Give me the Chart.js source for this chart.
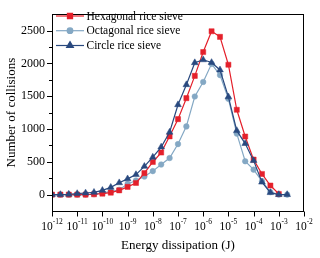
<!DOCTYPE html>
<html>
<head>
<meta charset="utf-8">
<script src="https://cdn.jsdelivr.net/npm/chart.js@4.4.0/dist/chart.umd.min.js"></script>
<style>
html,body{margin:0;padding:0;background:#fff;}
canvas{display:block;}
</style>
</head>
<body>
<canvas id="c" width="320" height="258"></canvas>
<script>
// Energy dissipation values (J), one per point
const energy = [1e-12, 2.15e-12, 4.64e-12, 1e-11, 2.15e-11, 4.64e-11, 1e-10, 2.15e-10, 4.64e-10,
  1e-9, 2.15e-9, 4.64e-9, 1e-8, 2.15e-8, 4.64e-8, 1e-7, 2.15e-7, 4.64e-7,
  1e-6, 2.15e-6, 4.64e-6, 1e-5, 2.15e-5, 4.64e-5, 1e-4, 2.15e-4, 4.64e-4, 1e-3, 2.15e-3];

const hexagonal = [0, 0, 0, 0, 0, 5, 15, 30, 65, 118, 178, 327, 497, 641, 888, 1150, 1470, 1810,
  2173, 2490, 2405, 1980, 1293, 885, 533, 315, 138, 10, null];
const octagonal = [0, 0, 0, 0, 0, 5, 25, 45, 74, 163, 215, 275, 358, 459, 557, 770, 1040, 1495,
  1717, 1993, 1822, 1460, 930, 508, 380, 205, 38, 0, 0];
const circle = [0, 0, 5, 15, 24, 34, 64, 110, 180, 240, 305, 430, 570, 725, 951, 1370, 1675, 2010,
  2055, 2013, 1900, 1490, 975, 778, 518, 190, 30, 0, 0];

const seriesNames = ['Hexagonal rice sieve', 'Octagonal rice sieve', 'Circle rice sieve'];
const yTicks = [0, 500, 1000, 1500, 2000, 2500];
const yMinorTicks = [250, 750, 1250, 1750, 2250];
const xTickExponents = ['-12', '-11', '-10', '-9', '-8', '-7', '-6', '-5', '-4', '-3', '-2'];
const xTickValues = [1e-12, 1e-11, 1e-10, 1e-9, 1e-8, 1e-7, 1e-6, 1e-5, 1e-4, 1e-3, 1e-2];

const FONT = '"Liberation Serif", "Times New Roman", serif';
const RED = '#e4202b';
const LIGHT = '#84a8c4';
const DARK = '#29497f';

function pts(arr) {
  return energy.map((e, i) => ({x: e, y: arr[i]})).filter(p => p.y !== null);
}

const styles = [
  {color: RED, pointStyle: 'rect', radius: 3.6, order: 2},
  {color: LIGHT, pointStyle: 'circle', radius: 2.8, order: 3},
  {color: DARK, pointStyle: 'triangle', radius: 3.9, order: 1}
];
const values = [hexagonal, octagonal, circle];

const datasets = values.map((v, i) => ({
  label: seriesNames[i],
  data: pts(v),
  borderColor: styles[i].color,
  backgroundColor: styles[i].color,
  borderWidth: 1.2,
  pointStyle: styles[i].pointStyle,
  pointRadius: styles[i].radius,
  pointBorderWidth: 0.5,
  tension: 0,
  order: styles[i].order
}));

const decor = {
  id: 'decor',
  afterDraw(chart) {
    const {ctx, chartArea: a, scales: {x, y}} = chart;
    ctx.save();
    ctx.strokeStyle = '#000';
    ctx.lineWidth = 1;
    ctx.strokeRect(Math.round(a.left) + 0.5, Math.round(a.top) + 0.5,
      Math.round(a.right - a.left) - 1, Math.round(a.bottom - a.top));
    // y ticks
    ctx.beginPath();
    yTicks.forEach(v => {
      const py = Math.round(y.getPixelForValue(v)) + 0.5;
      ctx.moveTo(a.left - 5, py); ctx.lineTo(a.left, py);
    });
    yMinorTicks.forEach(v => {
      const py = Math.round(y.getPixelForValue(v)) + 0.5;
      ctx.moveTo(a.left - 3, py); ctx.lineTo(a.left, py);
    });
    // x ticks
    const by = Math.round(a.bottom) + 0.5;
    xTickValues.forEach(v => {
      const px = Math.round(x.getPixelForValue(v)) + 0.5;
      ctx.moveTo(px, by); ctx.lineTo(px, by + 5);
    });
    ctx.stroke();
    // x tick labels with superscripts
    ctx.fillStyle = '#000';
    ctx.textBaseline = 'alphabetic';
    ctx.textAlign = 'left';
    xTickValues.forEach((v, i) => {
      const px = x.getPixelForValue(v);
      ctx.font = '11.5px ' + FONT;
      const w1 = ctx.measureText('10').width;
      ctx.font = '7.5px ' + FONT;
      const w2 = ctx.measureText(xTickExponents[i]).width;
      const start = px - (w1 + w2) / 2;
      ctx.font = '11.5px ' + FONT;
      ctx.fillText('10', start, 229.5);
      ctx.font = '7.5px ' + FONT;
      ctx.fillText(xTickExponents[i], start + w1, 224);
    });
    // legend
    const rows = [16, 30.7, 45.5];
    ctx.textBaseline = 'middle';
    ctx.textAlign = 'left';
    chart.data.datasets.forEach((ds, i) => {
      const cy = rows[i];
      ctx.strokeStyle = ds.borderColor;
      ctx.lineWidth = 1.2;
      ctx.beginPath();
      ctx.moveTo(56, cy); ctx.lineTo(84, cy);
      ctx.stroke();
      ctx.fillStyle = ds.backgroundColor;
      Chart.helpers.drawPoint(ctx, {pointStyle: ds.pointStyle, radius: ds.pointRadius, borderWidth: 0.5}, 70, cy);
      ctx.fillStyle = '#000';
      ctx.font = '11.5px ' + FONT;
      ctx.fillText(ds.label, 86.5, cy + 0.5);
    });
    ctx.restore();
  }
};

new Chart(document.getElementById('c'), {
  type: 'line',
  data: {datasets},
  options: {
    responsive: false,
    animation: false,
    layout: {padding: {left: 0, right: 16, top: 7, bottom: 0}},
    plugins: {legend: {display: false}, tooltip: {enabled: false}},
    scales: {
      x: {
        type: 'logarithmic',
        min: 1e-12, max: 1e-2,
        grid: {display: false, drawTicks: false},
        border: {display: false},
        ticks: {display: false},
        afterFit(s) { s.height = 47; },
        title: {display: true, text: 'Energy dissipation (J)', color: '#000',
          font: {family: FONT, size: 13}, padding: {top: 0, bottom: 5}}
      },
      y: {
        min: -250, max: 2750,
        grid: {display: false, drawTicks: false},
        border: {display: false},
        afterBuildTicks(s) { s.ticks = yTicks.map(v => ({value: v})); },
        ticks: {color: '#000', padding: 7, font: {family: FONT, size: 12},
          callback: v => String(v)},
        afterFit(s) { s.width = 52; },
        title: {display: true, text: 'Number of collisions', color: '#000',
          font: {family: FONT, size: 13}, padding: {top: 4, bottom: 0}}
      }
    }
  },
  plugins: [decor]
});
</script>
</body>
</html>
